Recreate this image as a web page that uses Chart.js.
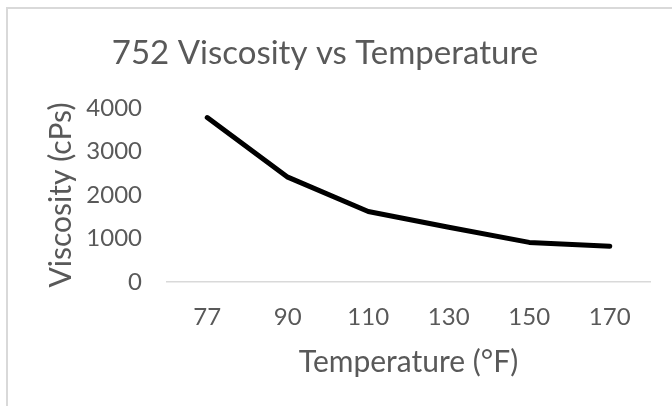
<!DOCTYPE html>
<html>
<head>
<meta charset="utf-8">
<script src="https://cdn.jsdelivr.net/npm/chart.js@4"></script>
<style>
  html, body { margin: 0; padding: 0; background: #fff; overflow: hidden; }
  #wrap { position: relative; width: 672px; height: 406px; }
  #frame {
    position: absolute; left: 6px; top: 7px; width: 700px; height: 500px;
    border-left: 2px solid #d9d9d9; border-top: 2px solid #d9d9d9;
  }
  canvas { position: absolute; left: 0; top: 0; }
</style>
</head>
<body>
<div id="wrap">
  <div id="frame"></div>
  <canvas id="chart" width="672" height="406"></canvas>
</div>
<script>
// data
const temperatures = ['77', '90', '110', '130', '150', '170'];
const viscosity = [3780, 2410, 1620, 1260, 910, 820];
const yTicks = [0, 1000, 2000, 3000, 4000];

const fontFamily = 'Lato, "Open Sans", sans-serif';
const grey = '#595959';

const ctx = document.getElementById('chart').getContext('2d');
new Chart(ctx, {
    type: 'line',
    data: {
        labels: temperatures,
        datasets: [{
            data: viscosity,
            borderColor: '#000',
            borderWidth: 5,
            borderJoinStyle: 'round',
            borderCapStyle: 'round',
            pointRadius: 0,
            tension: 0,
            fill: false
        }]
    },
    options: {
        responsive: false,
        animation: false,
        layout: { padding: { left: 0, right: 22, top: 0, bottom: 0 } },
        plugins: {
            legend: { display: false },
            tooltip: { enabled: false },
            title: {
                display: true,
                text: '752 Viscosity vs Temperature',
                color: grey,
                font: { family: fontFamily, size: 33, weight: 'normal' },
                padding: { top: 34, bottom: 34.4 }
            }
        },
        scales: {
            x: {
                type: 'category',
                offset: true,
                grid: { display: false, drawTicks: false },
                border: { display: true, color: '#d9d9d9', width: 1.5 },
                ticks: {
                    color: grey,
                    padding: 21,
                    maxRotation: 0,
                    font: { family: fontFamily, size: 24 }
                },
                title: {
                    display: true,
                    text: 'Temperature (°F)',
                    color: grey,
                    font: { family: fontFamily, size: 30 },
                    padding: { top: 0, bottom: 26 }
                },
                afterFit(scale) { scale.height = 124; }
            },
            y: {
                min: 0,
                max: 4000,
                afterBuildTicks(scale) {
                    scale.ticks = yTicks.map(v => ({ value: v }));
                },
                grid: { display: false, drawTicks: false },
                border: { display: false },
                ticks: {
                    color: grey,
                    padding: 25,
                    font: { family: fontFamily, size: 24 },
                    callback: v => String(v)
                },
                title: {
                    display: true,
                    text: 'Viscosity (cPs)',
                    color: grey,
                    font: { family: fontFamily, size: 30 },
                    padding: { top: 43, bottom: 0 }
                },
                afterFit(scale) { scale.width = 167; }
            }
        }
    }
});
</script>
</body>
</html>
